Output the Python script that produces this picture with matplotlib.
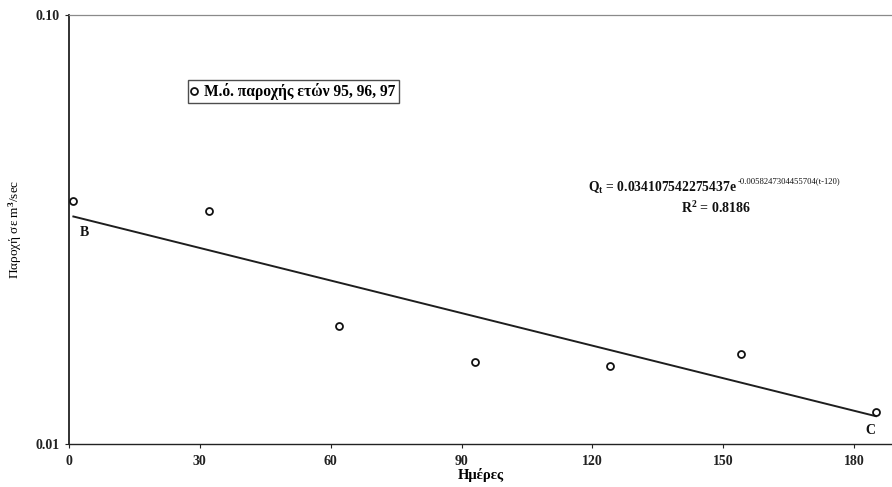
import numpy as np
import matplotlib
matplotlib.use("Agg")
import matplotlib.pyplot as plt
from matplotlib.ticker import FixedLocator, FixedFormatter, NullLocator

plt.rcParams['font.family'] = ['Liberation Serif', 'DejaVu Serif']
plt.rcParams['mathtext.fontset'] = 'custom'
plt.rcParams['mathtext.rm'] = 'Liberation Serif:bold'
plt.rcParams['mathtext.bf'] = 'Liberation Serif:bold'
plt.rcParams['mathtext.it'] = 'Liberation Serif:bold'

# Mean discharge (m^3/sec) for the years 95, 96, 97, by day of the recession period
days = [1, 32, 62, 93, 124, 154, 185]
discharge = [0.0369, 0.0349, 0.0188, 0.0155, 0.0152, 0.0162, 0.0119]

# Exponential recession fit
fit_a = 0.034107542275437
fit_b = 0.0058247304455704
r_squared = 0.8186

x_ticks = [0, 30, 60, 90, 120, 150, 180]
y_ticks = [0.01, 0.10]
y_tick_labels = ["0.01", "0.10"]

W, H = 892, 487
fig = plt.figure(figsize=(W / 100, H / 100), dpi=100)
ax = fig.add_axes([69 / W, 1 - 444 / H, 823 / W, 429 / H])


def fx(px):
    return px / W


def fy(py):
    return 1 - py / H


ax.set_yscale('log')
ax.set_xlim(0, 188.7)
ax.set_ylim(0.01, 0.10)

t_fit = np.linspace(days[0], days[-1], 200)
ax.plot(t_fit, fit_a * np.exp(-fit_b * t_fit), color='#1e1e1e', lw=1.4, zorder=2)
ax.plot(days, discharge, linestyle='none', marker='o', markersize=5,
        markerfacecolor='white', markeredgecolor='#111111', markeredgewidth=1.3,
        label='Μ.ό. παροχής ετών 95, 96, 97', zorder=3)

ax.xaxis.set_major_locator(FixedLocator(x_ticks))
ax.yaxis.set_major_locator(FixedLocator(y_ticks))
ax.yaxis.set_major_formatter(FixedFormatter(y_tick_labels))
ax.yaxis.set_minor_locator(NullLocator())
ax.tick_params(axis='both', direction='out', length=3, width=0.8,
               labelsize=10, colors='#222222', pad=4)
ax.tick_params(axis='x', pad=5)
for lbl in ax.get_xticklabels() + ax.get_yticklabels():
    lbl.set_fontweight('bold')

for side in ('left', 'bottom'):
    ax.spines[side].set_color('#222222')
ax.spines['left'].set_linewidth(1.3)
ax.spines['bottom'].set_linewidth(1.0)
ax.spines['top'].set_color('#8a8a8a')
ax.spines['top'].set_linewidth(0.9)
ax.spines['right'].set_visible(False)

ax.set_xlabel('Ημέρες', fontsize=10.5, fontweight='bold')
ax.xaxis.set_label_coords(0.5, -0.055)
ax.set_ylabel('Παροχή σε m$^3$/sec', fontsize=9.5, fontweight='normal')
ax.yaxis.set_label_coords(-0.055, 0.5)

leg = ax.legend(loc='upper left', bbox_to_anchor=((188 - 69) / 823, 1 - (80 - 15) / 429),
                borderaxespad=0, frameon=True, fancybox=False, edgecolor='#222222',
                handlelength=0.4, handletextpad=0.45, borderpad=0.2,
                prop={'family': 'Liberation Serif', 'weight': 'bold', 'size': 11.2})
leg.get_frame().set_linewidth(1.0)

# Fitted equation and goodness of fit
fig.text(fx(737), fy(188), r'$\mathbf{Q_t}$ = 0.034107542275437e', fontsize=9.8,
         fontweight='bold', ha='right', va='center', color='#111111')
fig.text(fx(738), fy(181), '-0.0058247304455704(t-120)', fontsize=6.2,
         ha='left', va='center', color='#111111')
fig.text(fx(716), fy(208), r'R$^2$ = %.4f' % r_squared, fontsize=10,
         fontweight='bold', ha='center', va='center', color='#111111')

# Start and end of the recession segment
fig.text(fx(84), fy(233), 'B', fontsize=10, fontweight='bold',
         ha='center', va='center', color='#111111')
fig.text(fx(870), fy(431), 'C', fontsize=10, fontweight='bold',
         ha='center', va='center', color='#111111')

fig.savefig('out.png', dpi=100)
